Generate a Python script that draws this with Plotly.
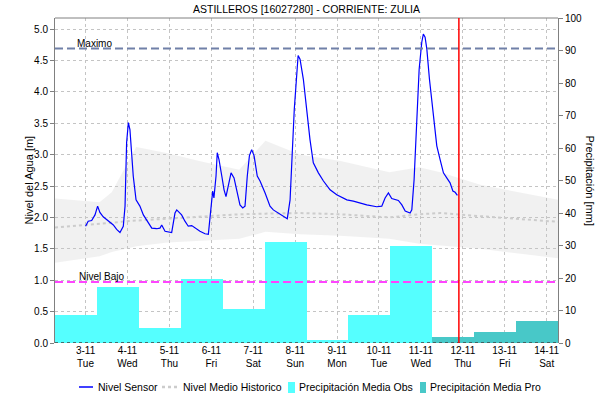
import pandas as pd
import plotly.graph_objects as go

# ---------------------------------------------------------------- data
base = pd.Timestamp("2020-11-03 00:00")

# water level sensor (hours after 3-11 00:00, metres)
sensor_hours = [0, 1.5, 3.5, 5.4, 6.9, 8.2, 10.1, 13.0, 15.9, 17.8,
                19.7, 21.6, 22.6, 23.5, 24.5, 25.4, 26.4, 27.3, 28.9, 31.1,
                33.1, 35.9, 37.9, 40.7, 42.6, 43.6, 45.5, 49.3, 51.2, 52.2,
                55.0, 56.9, 58.8, 60.8, 62.7, 65.5, 68.4, 70.3, 71.7, 72.8,
                73.5, 74.7, 75.4, 76.4, 78.0, 79.3, 80.4, 81.7, 83.3, 85.0,
                86.6, 88.4, 90.0, 91.3, 92.6, 93.8, 95.1, 96.5, 98.3, 99.9,
                102.8, 105.6, 107.5, 110.4, 113.2, 115.5, 117.1, 118.4, 119.5, 121.7,
                122.8, 124.7, 126.6, 128.5, 130.4, 133.3, 136.2, 140.0, 143.8, 149.6,
                153.3, 157.2, 161.0, 166.7, 169.6, 171.5, 173.4, 175.3, 179.1, 181.1,
                183.0, 185.8, 186.8, 188.1, 189.7, 191.0, 192.5, 193.4, 194.4, 195.4,
                196.9, 198.8, 201.1, 203.0, 204.9, 206.8, 208.7, 210.3, 211.6, 212.9]
sensor_level = [1.86, 1.94, 1.95, 2.04, 2.18, 2.08, 2.01, 1.94, 1.88, 1.81,
                1.76, 1.86, 2.18, 3.19, 3.51, 3.40, 3.03, 2.66, 2.28, 2.18,
                2.04, 1.91, 1.83, 1.82, 1.83, 1.88, 1.78, 1.76, 2.07, 2.12,
                2.04, 1.94, 1.86, 1.87, 1.83, 1.78, 1.74, 1.73, 2.12, 2.42,
                2.31, 2.66, 3.03, 2.92, 2.66, 2.44, 2.33, 2.50, 2.71, 2.63,
                2.44, 2.20, 2.15, 2.18, 2.66, 2.98, 3.08, 2.98, 2.66, 2.58,
                2.39, 2.18, 2.12, 2.07, 2.03, 1.98, 2.28, 3.19, 3.72, 4.58,
                4.52, 4.20, 3.67, 3.24, 2.87, 2.71, 2.58, 2.44, 2.36, 2.28,
                2.26, 2.23, 2.20, 2.17, 2.18, 2.31, 2.39, 2.30, 2.27, 2.20,
                2.10, 2.07, 2.12, 2.60, 3.67, 4.36, 4.79, 4.92, 4.87, 4.68,
                4.20, 3.67, 3.14, 2.92, 2.71, 2.63, 2.55, 2.42, 2.40, 2.35]

# historic mean level with its spread band
hist_hours = [-17.5, 8, 15, 29, 47, 65, 88, 103, 123, 146, 174, 191, 203, 226, 270.6]
hist_top = [2.30, 2.24, 2.40, 3.12, 3.02, 2.90, 2.76, 3.22, 3.00, 2.90, 2.72, 2.80, 2.72, 2.52, 2.28]
hist_bottom = [1.28, 1.38, 1.45, 1.54, 1.60, 1.63, 1.66, 1.77, 1.73, 1.71, 1.66, 1.58, 1.55, 1.50, 1.35]
hist_mean = [1.84, 1.90, 1.92, 1.95, 1.98, 2.01, 2.05, 2.06, 2.07, 2.05, 2.00, 2.05, 2.07, 2.02, 1.93]

# daily precipitation (mm): observed and forecast
obs_days = ["2020-11-03", "2020-11-04", "2020-11-05", "2020-11-06", "2020-11-07",
            "2020-11-08", "2020-11-09", "2020-11-10", "2020-11-11"]
obs_mm = [8.6, 17.2, 4.7, 19.8, 10.4, 31.2, 0.9, 8.6, 29.7]
pro_days = ["2020-11-12", "2020-11-13", "2020-11-14"]
pro_mm = [1.8, 3.5, 6.9]

# axis ticks
tick_days = ["2020-11-%02d" % d for d in range(3, 15)]
tick_text = ["%d-11<br>%s" % (d, w) for d, w in zip(range(3, 15),
             ["Tue", "Wed", "Thu", "Fri", "Sat", "Sun", "Mon", "Tue", "Wed", "Thu", "Fri", "Sat"])]

nivel_maximo = 4.69
nivel_bajo = 0.97
ahora = "2020-11-11 21:45"

# ---------------------------------------------------------------- figure
FONT = "Liberation Sans, Arial, sans-serif"
W, H = 603, 404
L, R, T, B = 55, 45, 18, 61
PW, PH = W - L - R, H - T - B

hours = lambda hs: [base + pd.Timedelta(hours=h) for h in hs]
bar_shift = pd.Timedelta(hours=-5.5)
day_ms = 86400000

C_SENSOR, C_MEAN, C_OBS, C_PRO = "#0000FF", "#CCCCCC", "#55FFFF", "#48C8C8"

fig = go.Figure()

fig.add_trace(go.Scatter(x=hours(hist_hours), y=hist_bottom, mode="lines",
                         line=dict(width=0, color="rgba(0,0,0,0)"),
                         showlegend=False, hoverinfo="skip"))
fig.add_trace(go.Scatter(x=hours(hist_hours), y=hist_top, mode="lines",
                         line=dict(width=0, color="rgba(0,0,0,0)"),
                         fill="tonexty", fillcolor="rgba(200,200,200,0.25)",
                         showlegend=False, hoverinfo="skip"))
fig.add_trace(go.Scatter(x=hours(hist_hours), y=hist_mean, mode="lines",
                         name="Nivel Medio Historico", showlegend=False,
                         line=dict(color=C_MEAN, width=2, dash="dot")))
fig.add_trace(go.Scatter(x=hours(sensor_hours), y=sensor_level, mode="lines",
                         name="Nivel Sensor", showlegend=False,
                         line=dict(color=C_SENSOR, width=1.2)))
fig.add_trace(go.Bar(x=[pd.Timestamp(d) + bar_shift for d in obs_days], y=obs_mm,
                     width=day_ms, yaxis="y2", name="Precipitación Media Obs",
                     showlegend=False, marker=dict(color=C_OBS, line=dict(width=0))))
fig.add_trace(go.Bar(x=[pd.Timestamp(d) + bar_shift for d in pro_days], y=pro_mm,
                     width=day_ms, yaxis="y2", name="Precipitación Media Pro",
                     showlegend=False, marker=dict(color=C_PRO, line=dict(width=0))))

grid = dict(showgrid=True, gridcolor="#C4C4C4", griddash="dot", gridwidth=1)

fig.update_layout(
    width=W, height=H,
    margin=dict(l=L, r=R, t=T, b=B, autoexpand=False),
    paper_bgcolor="white", plot_bgcolor="white",
    font=dict(family=FONT, size=10, color="#000000"),
    barmode="overlay", bargap=0, showlegend=False,
    title=dict(text="ASTILLEROS [16027280] - CORRIENTE: ZULIA",
               x=0.5, xref="paper", xanchor="center",
               y=1 - 9 / H, yanchor="middle",
               font=dict(family=FONT, size=10.5, color="#000000")),
    xaxis=dict(type="date", range=["2020-11-02 06:30", "2020-11-14 06:30"],
               tickvals=tick_days, ticktext=tick_text, ticks="",
               showline=False, zeroline=False, **grid),
    yaxis=dict(range=[0, 5.176], dtick=0.5, tickformat=".1f",
               ticks="outside", ticklen=4, tickcolor="#808080",
               showline=True, linecolor="#808080", linewidth=1,
               zeroline=False, **grid),
    yaxis2=dict(range=[0, 100], dtick=10, overlaying="y", side="right",
                ticks="outside", ticklen=4, tickcolor="#808080",
                showline=True, linecolor="#808080", linewidth=1,
                showgrid=False, zeroline=False),
)

shapes = [
    # plot top border
    dict(type="line", xref="paper", yref="paper", x0=0, x1=1, y0=1, y1=1,
         line=dict(color="#808080", width=1)),
    # baseline
    dict(type="line", xref="paper", yref="y", x0=0, x1=1, y0=0, y1=0,
         line=dict(color="#404040", width=1.5, dash="dot")),
    # threshold levels
    dict(type="line", xref="paper", yref="y", x0=0, x1=1, y0=nivel_maximo, y1=nivel_maximo,
         line=dict(color="#7080A8", width=2, dash="8px,4px")),
    dict(type="line", xref="paper", yref="y", x0=0, x1=1, y0=nivel_bajo, y1=nivel_bajo,
         line=dict(color="#FF44FF", width=2, dash="8px,4px")),
    # current time marker
    dict(type="line", xref="x", yref="paper", x0=ahora, x1=ahora, y0=0, y1=1,
         line=dict(color="#FF0000", width=1.5)),
]

# legend row below the plot (pixel positions converted to paper units)
px = lambda x: (x - L) / PW
py = lambda y: (H - B - y) / PH
LEG_Y = 387
shapes += [
    dict(type="line", xref="paper", yref="paper", x0=px(79), x1=px(93),
         y0=py(LEG_Y), y1=py(LEG_Y), line=dict(color=C_SENSOR, width=1.5)),
    dict(type="line", xref="paper", yref="paper", x0=px(162), x1=px(177),
         y0=py(LEG_Y), y1=py(LEG_Y), line=dict(color=C_MEAN, width=2.5, dash="3px,3px")),
    dict(type="rect", xref="paper", yref="paper", x0=px(288), x1=px(295),
         y0=py(LEG_Y + 6), y1=py(LEG_Y - 5), line=dict(width=0), fillcolor=C_OBS),
    dict(type="rect", xref="paper", yref="paper", x0=px(420), x1=px(426),
         y0=py(LEG_Y + 6), y1=py(LEG_Y - 5), line=dict(width=0), fillcolor=C_PRO),
]
fig.update_layout(shapes=shapes)

legend_items = [("Nivel Sensor", 96), ("Nivel Medio Historico", 181),
                ("Precipitación Media Obs", 297), ("Precipitación Media Pro", 428)]
for label, x0 in legend_items:
    fig.add_annotation(text=label, xref="paper", yref="paper", x=px(x0), y=py(LEG_Y),
                       xanchor="left", yanchor="middle", showarrow=False,
                       font=dict(family=FONT, size=10.5))

fig.add_annotation(text="Maximo", xref="paper", yref="y", x=0.04, y=nivel_maximo,
                   xanchor="left", yanchor="bottom", showarrow=False, yshift=-2,
                   font=dict(family=FONT, size=10))
fig.add_annotation(text="Nivel Bajo", xref="paper", yref="y", x=0.044, y=nivel_bajo,
                   xanchor="left", yanchor="bottom", showarrow=False, yshift=-2,
                   font=dict(family=FONT, size=10))
fig.add_annotation(text="Nivel del Agua [m]", xref="paper", yref="paper",
                   x=px(28), y=0.5, textangle=-90, showarrow=False,
                   xanchor="center", yanchor="middle", font=dict(family=FONT, size=11))
fig.add_annotation(text="Precipitación [mm]", xref="paper", yref="paper",
                   x=px(590), y=0.5, textangle=90, showarrow=False,
                   xanchor="center", yanchor="middle", font=dict(family=FONT, size=11))

fig.write_html("out.html")
